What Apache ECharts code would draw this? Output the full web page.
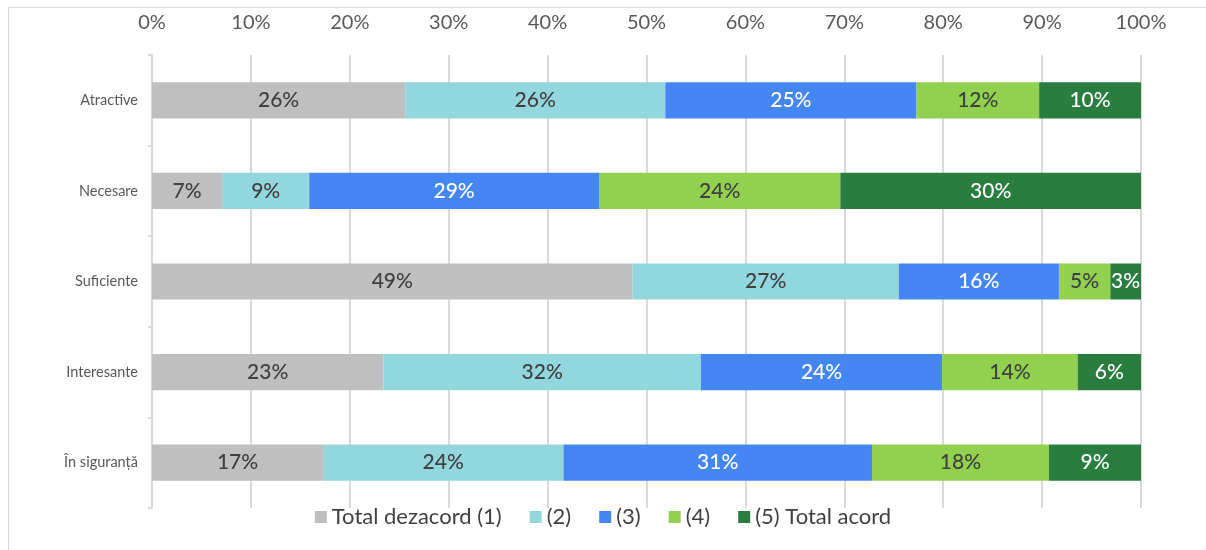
<!DOCTYPE html>
<html>
<head>
<meta charset="utf-8">
<script src="https://cdn.jsdelivr.net/npm/echarts@6/dist/echarts.min.js"></script>
<style>
html, body {margin: 0; padding: 0; background: #fff;}
#chart {width: 1206px; height: 550px;}
</style>
</head>
<body>
<div id="chart"></div>
<script>
// categorii (de sus in jos)
var categories = ['Atractive', 'Necesare', 'Suficiente', 'Interesante', 'În siguranță'];
var seriesNames = ['Total dezacord (1)', '(2)', '(3)', '(4)', '(5) Total acord'];
// procente
var dezacord = [25.6, 7.1, 48.6, 23.4, 17.3];
var val2 = [26.3, 8.8, 26.9, 32.1, 24.3];
var val3 = [25.4, 29.3, 16.2, 24.4, 31.2];
var val4 = [12.4, 24.4, 5.2, 13.7, 17.9];
var acord = [10.3, 30.4, 3.1, 6.4, 9.3];
var xTicks = [0, 10, 20, 30, 40, 50, 60, 70, 80, 90, 100];

var colors = ['#BFBFBF', '#92D7DE', '#4487F4', '#92D050', '#287D3F'];
var labelColors = ['#404040', '#404040', '#ffffff', '#404040', '#ffffff'];
var allData = [dezacord, val2, val3, val4, acord];
var font = 'Lato, "Open Sans", sans-serif';

var series = [];
allData.forEach(function (data, i) {
    series.push({
        name: seriesNames[i],
        type: 'bar',
        stack: 'total',
        barCategoryGap: '60%',
        data: data,
        itemStyle: {color: colors[i]},
        label: {
            show: true,
            position: 'inside',
            color: labelColors[i],
            fontFamily: font,
            fontSize: 21,
            fontWeight: 500,
            formatter: function (p) {
                return Math.round(p.value) + '%';
            }
        }
    });
});

var myChart = echarts.init(document.getElementById('chart'));
myChart.setOption({
    animation: false,
    textStyle: {fontFamily: font},
    graphic: [{
        type: 'rect',
        shape: {x: 8.5, y: 7.5, width: 1300, height: 700},
        style: {fill: 'none', stroke: '#d9d9d9', lineWidth: 1},
        silent: true
    }],
    grid: {left: 152, right: 65, top: 55, bottom: 42},
    legend: {
        bottom: 17,
        left: 'center',
        itemWidth: 12,
        itemHeight: 12,
        itemGap: 28,
        icon: 'rect',
        textStyle: {fontSize: 22, color: '#404040', fontFamily: font},
        data: seriesNames
    },
    xAxis: {
        type: 'value',
        position: 'top',
        min: 0,
        max: 100,
        interval: 10,
        axisLine: {show: false},
        axisTick: {show: false},
        axisLabel: {
            fontSize: 20,
            color: '#595959',
            margin: 22,
            formatter: function (v) {
                return xTicks.indexOf(v) >= 0 ? v + '%' : '';
            }
        },
        splitLine: {lineStyle: {color: '#d9d9d9', width: 2}}
    },
    yAxis: {
        type: 'category',
        inverse: true,
        data: categories,
        axisLine: {lineStyle: {color: '#d9d9d9', width: 2}},
        axisTick: {show: true, length: 4, lineStyle: {color: '#d9d9d9', width: 2}},
        axisLabel: {fontSize: 14.5, color: '#595959', margin: 14}
    },
    series: series
});
</script>
</body>
</html>
